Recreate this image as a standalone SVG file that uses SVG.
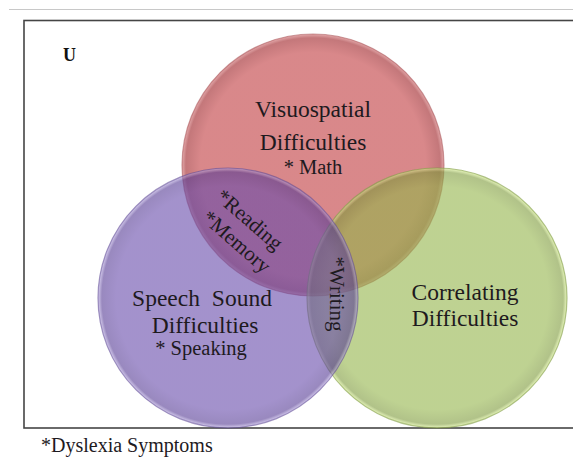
<svg xmlns="http://www.w3.org/2000/svg" width="573" height="457" viewBox="0 0 573 457">
<defs>
<radialGradient id="gRed" cx="0.5" cy="0.5" r="0.5">
<stop offset="0" stop-color="#cc6063"/>
<stop offset="0.86" stop-color="#cc6063"/>
<stop offset="0.97" stop-color="#b04a4e"/>
<stop offset="1" stop-color="#d98a8c"/>
</radialGradient>
<radialGradient id="gGreen" cx="0.5" cy="0.5" r="0.5">
<stop offset="0" stop-color="#93b449"/>
<stop offset="0.86" stop-color="#93b449"/>
<stop offset="0.97" stop-color="#7d9a3a"/>
<stop offset="1" stop-color="#d8f090"/>
</radialGradient>
<radialGradient id="gPurple" cx="0.5" cy="0.5" r="0.5">
<stop offset="0" stop-color="#6649aa"/>
<stop offset="0.86" stop-color="#6649aa"/>
<stop offset="0.97" stop-color="#553a94"/>
<stop offset="1" stop-color="#b8a8e0"/>
</radialGradient>
</defs>
<style>
.lbl{font-family:"Liberation Serif","Times New Roman",serif;fill:#1e1a1e;text-anchor:middle}
.big{font-size:23.5px}
.sm{font-size:20.5px}
.rot{font-size:21px}
.circ{stroke-width:1.2}
</style>
<rect x="0" y="0" width="573" height="457" fill="#ffffff"/>
<line x1="9" y1="9.5" x2="573" y2="9.5" stroke="#c8c8c8" stroke-width="1"/>
<rect x="24" y="20.5" width="600" height="407.5" fill="#ffffff" stroke="#454545" stroke-width="1.6"/>
<text x="63" y="61" font-family="Liberation Serif, serif" font-weight="bold" font-size="18" fill="#111">U</text>

<g id="visuospatial">
<circle class="circ" cx="313" cy="165" r="131" fill="url(#gRed)" fill-opacity="0.75" stroke="#a04448" stroke-opacity="0.5"/>
<text class="lbl big" x="313" y="117">Visuospatial</text>
<text class="lbl big" x="313" y="150">Difficulties</text>
<text class="lbl sm" x="313" y="174">* Math</text>
</g>

<g id="correlating">
<circle class="circ" cx="437" cy="298" r="130" fill="url(#gGreen)" fill-opacity="0.6" stroke="#7f9a45" stroke-opacity="0.6"/>
<text class="lbl big" x="465" y="300">Correlating</text>
<text class="lbl big" x="465" y="326">Difficulties</text>
</g>

<g id="speech">
<circle class="circ" cx="228" cy="298" r="130" fill="url(#gPurple)" fill-opacity="0.6" stroke="#5a4490" stroke-opacity="0.55"/>
<text class="lbl big" x="202" y="306" word-spacing="6">Speech Sound</text>
<text class="lbl big" x="205" y="333">Difficulties</text>
<text class="lbl sm" x="201" y="355">* Speaking</text>
</g>

<g id="overlaps">
<text class="lbl rot" transform="translate(245,225) rotate(41)">*Reading</text>
<text class="lbl rot" transform="translate(232,247) rotate(41)">*Memory</text>
<text class="lbl rot" transform="translate(330,294) rotate(90)">*Writing</text>
</g>

<g id="connectors"></g>

<text x="41" y="452" font-family="Liberation Serif, serif" font-size="20" fill="#1e1a1e">*Dyslexia Symptoms</text>
</svg>
